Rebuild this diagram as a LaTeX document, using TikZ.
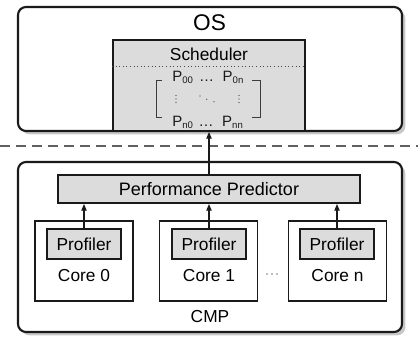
\documentclass[tikz,border=0pt]{standalone}
\usepackage{fontspec}
\setmainfont{Liberation Sans}
\usetikzlibrary{shadows,arrows.meta}
\definecolor{boxfill}{HTML}{DCDCDC}
\definecolor{shadowgray}{HTML}{C8C8C8}
\definecolor{lineblack}{HTML}{1A1A1A}
\tikzset{
  bigbox/.style={draw=lineblack, line width=1.6pt, rounded corners=6pt, fill=white,
    drop shadow={shadow xshift=2.5pt, shadow yshift=-2.5pt, fill=shadowgray, opacity=1},
    minimum width=288pt, inner sep=0pt},
  graybox/.style={draw=lineblack, line width=1.5pt, fill=boxfill, inner sep=0pt},
  corebox/.style={draw=lineblack, line width=0.9pt, fill=white, minimum width=73.5pt, minimum height=60pt, inner sep=0pt},
  profbox/.style={graybox, minimum width=55.5pt, minimum height=22.5pt, font=\fontsize{13}{15}\selectfont},
  lbl/.style={font=\fontsize{13}{15}\selectfont, inner sep=0pt},
  mat/.style={font=\fontsize{11.25}{13}\selectfont, inner sep=0pt, text=lineblack, anchor=base},
  arr/.style={draw=lineblack, line width=0.8pt, -{Triangle[length=5pt,width=4pt]}},
  brk/.style={draw=lineblack!85, line width=0.7pt},
  mdot/.style={fill=lineblack!85},
}
\newcommand{\Psub}[1]{P\raisebox{-1.5pt}{\fontsize{7.2}{8}\selectfont #1}}
\begin{document}
\begin{tikzpicture}[x=0.75pt,y=-0.75pt]
\useasboundingbox (0,0) rectangle (418,338);
% OS
\node[bigbox, minimum height=93pt] (os) at (210,69) {};
\node[font=\fontsize{17}{19}\selectfont, inner sep=0pt] (oslbl) at (209.5,23) {OS};
% Scheduler
\node[graybox, minimum width=144pt, minimum height=68.25pt] (sched) at (209,85.5) {};
\node[lbl] (schedlbl) at (209,54.5) {Scheduler};
\draw[draw=lineblack!80, line width=0.7pt, dotted] (sched.west |- 0,66) -- (sched.east |- 0,66);
% matrix
\node[mat] (p00) at (182.7,82) {\Psub{00}};
\node[mat] (p0n) at (233,82) {\Psub{0n}};
\node[mat] (pn0) at (182.7,127) {\Psub{n0}};
\node[mat] (pnn) at (232.5,127) {\Psub{nn}};
\node[mat] (e1) at (206.5,82) {…};
\node[mat] (e2) at (206,127) {…};
\foreach \yy in {95.5,99,102.5}{
  \fill[mdot] (176,\yy) circle (0.6);
  \fill[mdot] (239,\yy) circle (0.6);
}
\fill[mdot] (200,96) circle (0.6);
\fill[mdot] (206.7,99.3) circle (0.6);
\fill[mdot] (214,101.7) circle (0.6);
\draw[brk] (162,80.5) -- (156.5,80.5) -- (156.5,117) -- (162,117);
\draw[brk] (252,80.5) -- (260.5,80.5) -- (260.5,117) -- (252,117);
% dashed separator
\coordinate (dl) at (0,146);
\coordinate (dr) at (418,146);
\draw[draw=gray!75!black, line width=1.1pt, dash pattern=on 7.5pt off 4.5pt] (dl) -- (dr);
% CMP
\node[bigbox, minimum height=127.5pt] (cmp) at (210,247) {};
\node[lbl] (cmplbl) at (210,317) {CMP};
% Performance predictor
\node[graybox, minimum width=226.5pt, minimum height=21pt, font=\fontsize{13.5}{15}\selectfont] (pp) at (209,189) {Performance Predictor};
% cores
\node[corebox] (core0) at (84,261) {};
\node[corebox] (core1) at (208.5,261) {};
\node[corebox] (coren) at (337.5,261) {};
\node[profbox] (prof0) at (84,244) {Profiler};
\node[profbox] (prof1) at (209,244) {Profiler};
\node[profbox] (profn) at (337,244) {Profiler};
\node[lbl] (c0lbl) at (84,275.5) {Core 0};
\node[lbl] (c1lbl) at (209,275.5) {Core 1};
\node[lbl] (cnlbl) at (337.5,275.5) {Core n};
\foreach \xx in {267,272,277}{ \fill[gray] (\xx,274) circle (0.8); }
% arrows
\draw[arr] (prof0.north) -- (prof0.north |- pp.south);
\draw[arr] (prof1.north) -- (prof1.north |- pp.south);
\draw[arr] (profn.north) -- (profn.north |- pp.south);
\draw[arr] (pp.north) -- (pp.north |- sched.south);
\end{tikzpicture}
\end{document}
